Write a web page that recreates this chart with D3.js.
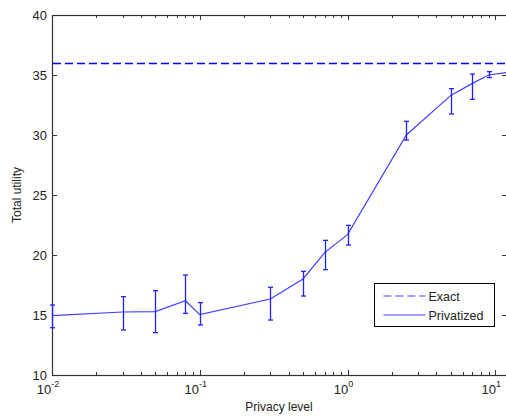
<!DOCTYPE html>
<html>
<head>
<meta charset="utf-8">
<script src="https://cdn.jsdelivr.net/npm/d3@7"></script>
<style>
  body { margin: 0; background: #fff; }
  text { font-family: "Liberation Sans", Arial, sans-serif; fill: #222; }
</style>
</head>
<body>
<svg id="chart" width="506" height="418"></svg>
<script>
// privacy levels (x) and privatized utility with error bar bounds
var privacy = [0.01, 0.03, 0.05, 0.08, 0.1, 0.3, 0.5, 0.7, 1, 2.5, 5, 7, 9, 12];
var utility = [14.94, 15.25, 15.28, 16.19, 15.03, 16.33, 18.0, 20.2, 21.7, 30.0, 33.3, 34.3, 35.0, 35.2];
var lower   = [13.94, 13.75, 13.53, 15.14, 14.17, 14.58, 16.58, 18.78, 20.83, 29.58, 31.75, 32.97, 34.78, null];
var upper   = [15.83, 16.53, 17.03, 18.33, 16.03, 17.31, 18.64, 21.22, 22.47, 31.14, 33.86, 35.08, 35.28, null];
var exactUtility = 36;

var yTicks = [10, 15, 20, 25, 30, 35, 40];
var xMajor = [0.01, 0.1, 1, 10];
var xExp = ["-2", "-1", "0", "1"];

var svg = d3.select("#chart"),
    plotLeft = 52, plotRight = 507, plotTop = 15, plotBottom = 375;

var x = d3.scaleLog().domain([0.01, 12]).range([plotLeft, plotRight]);
var y = d3.scaleLinear().domain([10, 40]).range([plotBottom, plotTop]);

var axisColor = "#333";
var lineBlue = "#2020ff";

// minor ticks on log axis
var xMinor = [];
[0.01, 0.1, 1].forEach(function(d) {
  for (var k = 2; k <= 9; k++) xMinor.push(d * k);
});

var g = svg.append("g");

// frame
g.append("rect")
  .attr("x", plotLeft + 0.5).attr("y", plotTop + 0.5)
  .attr("width", plotRight - plotLeft).attr("height", plotBottom - plotTop)
  .attr("fill", "none").attr("stroke", axisColor).attr("stroke-width", 1.2);

// x ticks (bottom and top)
xMajor.forEach(function(d) {
  var px = Math.round(x(d)) + 0.5;
  g.append("line").attr("x1", px).attr("x2", px).attr("y1", plotBottom).attr("y2", plotBottom - 5).attr("stroke", axisColor);
  g.append("line").attr("x1", px).attr("x2", px).attr("y1", plotTop).attr("y2", plotTop + 5).attr("stroke", axisColor);
});
xMinor.forEach(function(d) {
  var px = Math.round(x(d)) + 0.5;
  g.append("line").attr("x1", px).attr("x2", px).attr("y1", plotBottom).attr("y2", plotBottom - 3).attr("stroke", axisColor);
  g.append("line").attr("x1", px).attr("x2", px).attr("y1", plotTop).attr("y2", plotTop + 3).attr("stroke", axisColor);
});

// x tick labels 10^n
xMajor.forEach(function(d, i) {
  var t = g.append("text").attr("x", x(d) - 4).attr("y", 394)
    .attr("text-anchor", "middle").attr("font-size", 13);
  t.append("tspan").text("10");
  t.append("tspan").attr("dy", -7).attr("font-size", 9).text(xExp[i]);
});

// y ticks (left and right) and labels
yTicks.forEach(function(d) {
  var py = Math.round(y(d)) + 0.5;
  g.append("line").attr("x1", plotLeft).attr("x2", plotLeft + 5).attr("y1", py).attr("y2", py).attr("stroke", axisColor);
  g.append("line").attr("x1", plotRight).attr("x2", plotRight - 5).attr("y1", py).attr("y2", py).attr("stroke", axisColor);
  g.append("text").attr("x", 47).attr("y", py + 4.5)
    .attr("text-anchor", "end").attr("font-size", 13).text(d);
});

// axis titles
g.append("text").attr("x", 279).attr("y", 411).attr("text-anchor", "middle")
  .attr("font-size", 12).text("Privacy level");
g.append("text").attr("transform", "translate(21,195) rotate(-90)")
  .attr("text-anchor", "middle").attr("font-size", 12).text("Total utility");

// exact (dashed)
g.append("line")
  .attr("x1", x(0.01) + 1).attr("x2", x(12))
  .attr("y1", Math.round(y(exactUtility)) + 0.5).attr("y2", Math.round(y(exactUtility)) + 0.5)
  .attr("stroke", "#0000ff").attr("stroke-width", 1.5).attr("stroke-dasharray", "8,4");

// privatized line
var pts = privacy.map(function(d, i) { return [d, utility[i]]; });
var line = d3.line().x(function(d) { return x(d[0]); }).y(function(d) { return y(d[1]); });
g.append("path").datum(pts).attr("d", line)
  .attr("fill", "none").attr("stroke", "#4040ff").attr("stroke-width", 1.2);

// error bars
privacy.forEach(function(d, i) {
  if (lower[i] == null) return;
  var px = Math.round(x(d)) + 0.5;
  var eb = g.append("g").attr("stroke", lineBlue).attr("stroke-width", 1.3);
  eb.append("line").attr("x1", px).attr("x2", px).attr("y1", y(lower[i])).attr("y2", y(upper[i]));
  eb.append("line").attr("x1", px - 2.5).attr("x2", px + 2.5).attr("y1", y(lower[i])).attr("y2", y(lower[i]));
  eb.append("line").attr("x1", px - 2.5).attr("x2", px + 2.5).attr("y1", y(upper[i])).attr("y2", y(upper[i]));
});

// legend
var lg = g.append("g").attr("transform", "translate(374.5,283.5)");
lg.append("rect").attr("width", 120).attr("height", 43)
  .attr("fill", "#fff").attr("stroke", "#000").attr("stroke-width", 1);
lg.append("line").attr("x1", 9).attr("x2", 51).attr("y1", 12.5).attr("y2", 12.5)
  .attr("stroke", "#4040ff").attr("stroke-width", 1.2).attr("stroke-dasharray", "8,4");
lg.append("text").attr("x", 54).attr("y", 17).attr("font-size", 12.5).text("Exact");
lg.append("line").attr("x1", 9).attr("x2", 51).attr("y1", 31.5).attr("y2", 31.5)
  .attr("stroke", "#4040ff").attr("stroke-width", 1.2);
lg.append("text").attr("x", 54).attr("y", 36).attr("font-size", 12.5).text("Privatized");
</script>
</body>
</html>
